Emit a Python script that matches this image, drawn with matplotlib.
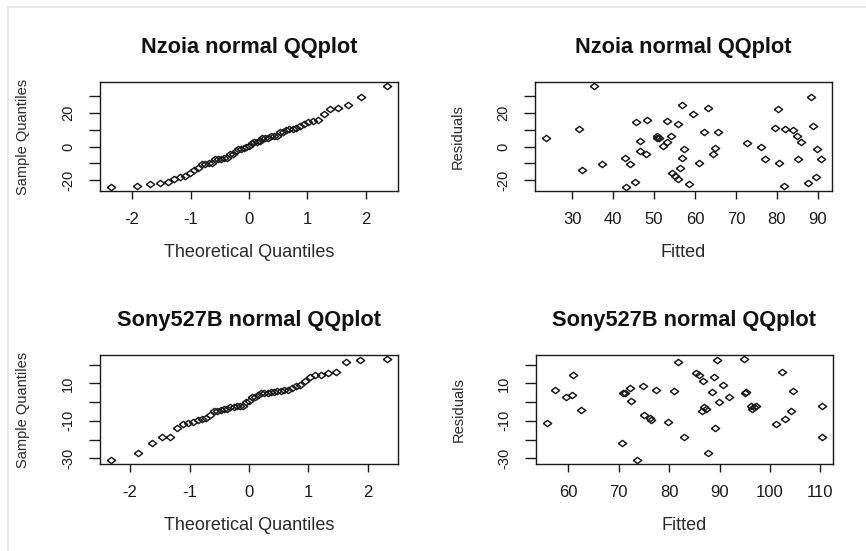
import numpy as np
import matplotlib.pyplot as plt
from matplotlib.lines import Line2D
from statistics import NormalDist

plt.rcParams['font.family'] = ['Liberation Sans', 'DejaVu Sans']
plt.rcParams['axes.unicode_minus'] = False

# Nzoia model: fitted values and residuals
nzoia_fitted = [23.6, 31.6, 32.5, 35.3, 37.3, 42.9, 43.2, 44.2, 45.3, 45.5,
                46.5, 46.6, 48.0, 48.4, 50.8, 50.8, 51.1, 52.1, 53.1, 53.1,
                54.2, 54.5, 55.1, 55.8, 55.8, 56.3, 56.9, 56.9, 57.3, 58.6,
                59.6, 61.0, 62.3, 63.1, 64.3, 64.9, 65.7, 72.7, 76.1, 77.1,
                79.6, 80.4, 80.5, 81.7, 82.0, 84.0, 84.9, 85.3, 85.9, 87.7,
                88.4, 88.8, 89.6, 89.8, 90.8]
nzoia_resid = [5.0, 10.5, -13.9, 36.0, -10.5, -6.5, -24.0, -10.5, -20.8, 14.5,
               3.6, -2.4, -4.6, 15.8, 6.5, 5.0, 5.3, 0.6, 2.6, 15.2,
               6.3, -15.8, -17.2, -19.2, 13.3, -12.9, 24.8, -6.5, -1.6, -22.4,
               19.2, -9.9, 8.9, 23.2, -4.6, -1.0, 8.9, 2.4, -0.4, -7.5,
               10.9, 22.4, -9.9, -23.4, 10.5, 9.9, 6.3, -7.5, 3.0, -21.8,
               29.3, 12.3, -17.8, -1.6, -7.5]

# Sony527B model
sony_fitted = [55.8, 57.4, 59.5, 60.7, 61.0, 62.5, 70.7, 70.9, 71.3, 72.2,
               72.4, 73.7, 74.8, 75.1, 76.2, 76.5, 77.4, 79.7, 81.0, 81.7,
               83.0, 85.3, 86.0, 86.5, 86.8, 87.0, 87.4, 87.8, 88.5, 88.8,
               89.1, 89.4, 89.8, 90.6, 91.9, 94.9, 95.0, 95.2, 96.2, 96.4,
               96.9, 97.2, 101.1, 102.4, 103.0, 104.2, 104.6, 110.3, 110.3]
sony_resid = [-11.0, 6.4, 2.9, 4.0, 14.4, -4.2, -21.6, 4.7, 4.7, 7.3,
              0.8, -30.9, 8.6, -6.9, -8.7, -9.6, 6.4, -10.4, 6.1, 21.2,
              -18.4, 15.3, 14.4, -4.8, 11.2, -2.8, -3.7, -27.0, 5.6, 13.2,
              -14.0, 22.4, -0.1, 9.1, 2.9, 23.0, 4.7, 5.4, -2.1, -3.7,
              -2.4, -2.1, -11.7, 16.2, -9.2, -4.8, 6.1, -2.1, -18.8]

titles = ["Nzoia normal QQplot", "Sony527B normal QQplot"]
qq_xticks = [-2, -1, 0, 1, 2]
nzoia_yticks = [-20, -10, 0, 10, 20, 30]
nzoia_ylabels = ["-20", "", "0", "", "20", ""]
sony_yticks = [-30, -20, -10, 0, 10, 20]
sony_ylabels = ["-30", "", "-10", "", "10", ""]
nzoia_fit_ticks = [30, 40, 50, 60, 70, 80, 90]
sony_fit_ticks = [60, 70, 80, 90, 100, 110]

W, H = 866, 551
ink = '#1a1a1a'
diamond = [(-1, 0), (0, 0.75), (1, 0), (0, -0.75), (-1, 0)]


def r_lim(vals):
    lo, hi = min(vals), max(vals)
    d = (hi - lo) * 0.04
    return lo - d, hi + d


def qq_theory(n):
    # R's ppoints for n > 10
    return [NormalDist().inv_cdf((i + 0.5) / n) for i in range(n)]


def panel(l, t, r, b, x, y, title, xlab, ylab, xticks, yticks, ylabels):
    ax = fig.add_axes([l / W, 1 - b / H, (r - l) / W, (b - t) / H])
    ax.plot(x, y, linestyle='none', marker=diamond, ms=6, mfc='none',
            mec=ink, mew=1.05)
    ax.set_xticks(xticks, [str(v) for v in xticks])
    ax.set_yticks(yticks, ylabels, rotation=90, va='center')
    ax.set_xlim(r_lim(x))
    ax.set_ylim(r_lim(y))
    for s in ax.spines.values():
        s.set_linewidth(1.0)
        s.set_color(ink)
    ax.tick_params(axis='x', length=5.8, width=1.0, pad=9.6, labelsize=12,
                   color=ink, labelcolor=ink)
    ax.tick_params(axis='y', length=7.9, width=1.0, pad=10, labelsize=10.5,
                   color=ink, labelcolor=ink)
    ax.set_title(title, fontsize=15.7, fontweight='bold', pad=20.9, color='#111111')
    ax.set_xlabel(xlab, fontsize=13, color='#2a2a2a')
    ax.xaxis.set_label_coords(0.5, -62 / (b - t))
    ax.xaxis.label.set_va('center')
    ax.set_ylabel(ylab, fontsize=10.5, color='#2a2a2a')
    ax.yaxis.set_label_coords(-77 / (r - l), 0.5)
    ax.yaxis.label.set_va('center')
    return ax


fig = plt.figure(figsize=(W / 100, H / 100), dpi=100)

panel(100, 82, 398, 191, qq_theory(len(nzoia_resid)), sorted(nzoia_resid),
      titles[0], "Theoretical Quantiles", "Sample Quantiles",
      qq_xticks, nzoia_yticks, nzoia_ylabels)
panel(535, 82, 832, 191, nzoia_fitted, nzoia_resid,
      titles[0], "Fitted", "Residuals",
      nzoia_fit_ticks, nzoia_yticks, nzoia_ylabels)
panel(100, 355, 398, 464, qq_theory(len(sony_resid)), sorted(sony_resid),
      titles[1], "Theoretical Quantiles", "Sample Quantiles",
      qq_xticks, sony_yticks, sony_ylabels)
panel(536, 355, 833, 464, sony_fitted, sony_resid,
      titles[1], "Fitted", "Residuals",
      sony_fit_ticks, sony_yticks, sony_ylabels)

# light frame of the screenshot
fig.add_artist(Line2D([8 / W, 8 / W], [0, 1 - 7 / H], color='#e6e6e6',
                      lw=1.3, transform=fig.transFigure))
fig.add_artist(Line2D([8 / W, 1], [1 - 7 / H, 1 - 7 / H], color='#e6e6e6',
                      lw=1.3, transform=fig.transFigure))

fig.savefig('out.png', dpi=100)
